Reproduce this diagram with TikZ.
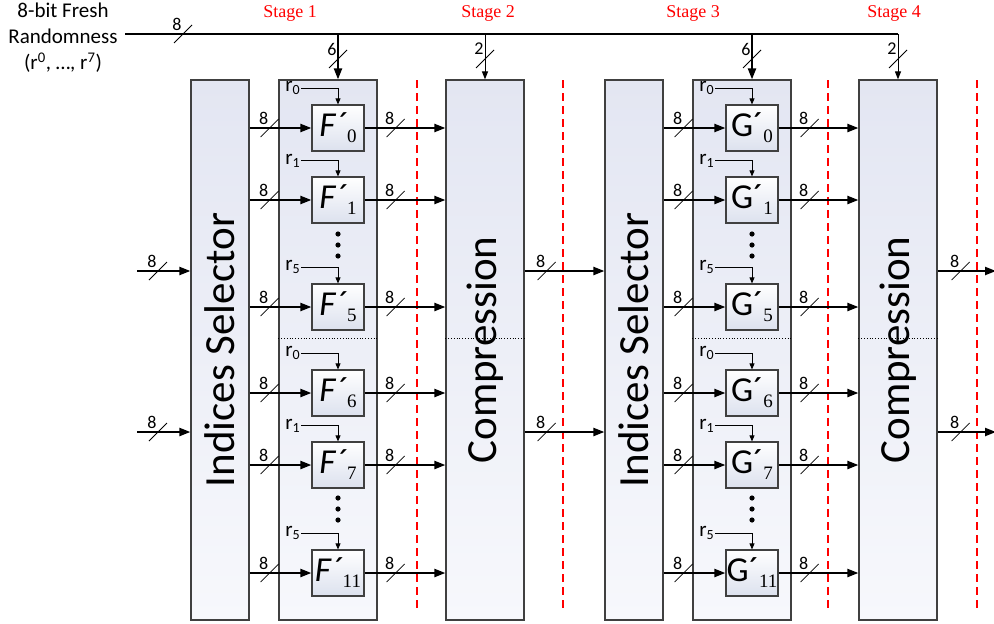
\documentclass[tikz,border=0pt]{standalone}
\usepackage{fontspec}
\setmainfont{Carlito}
\newfontfamily\stagefont{Liberation Serif}
\usetikzlibrary{positioning,calc,arrows.meta,decorations.markings}

\definecolor{blocktop}{HTML}{E3E6F2}
\definecolor{blockbot}{HTML}{F7F8FC}
\definecolor{boxbot}{HTML}{DCE1EE}
\definecolor{edge}{HTML}{404040}

\newcommand\unitsub[1]{\raisebox{-6pt}{\fontsize{19}{19}\stagefont\selectfont #1}}
\newcommand\rsub[1]{\raisebox{-3pt}{\fontsize{14}{14}\selectfont #1}}

\tikzset{
  block/.style={draw=edge, line width=1.2pt, top color=blocktop, bottom color=blockbot, inner sep=0pt, minimum height=540, font=\fontsize{43}{43}\selectfont},
  fbox/.style={draw=edge, line width=1.2pt, top color=white, bottom color=boxbot, minimum width=52, minimum height=46, inner sep=0pt, font=\fontsize{35}{35}\selectfont},
  rlbl/.style={inner sep=1pt, font=\fontsize{21}{21}\selectfont},
  rline/.style={line width=0.8pt, -{Triangle[length=6pt,width=5pt]}},
  busline/.style={line width=2.2pt, -{Triangle[length=11pt,width=8pt]}},
  thinbus/.style={line width=1pt, -{Triangle[length=8pt,width=6pt]}},
  buslbl/.style={inner sep=0pt, font=\fontsize{18}{18}\selectfont},
  bus/.style 2 args={postaction={decorate, decoration={markings, mark=at position #1 with {\pgftransformresetnontranslations \draw[-, line width=0.8pt] (-9,9) -- (9,-9); \node[buslbl] at (-6,-10) {#2};}}}},
  stageline/.style={red, line width=1.6pt, dash pattern=on 8pt off 5pt},
  stagelbl/.style={red, font=\stagefont\fontsize{18}{18}\selectfont},
  sepline/.style={line width=0.8pt, dotted},
}

\begin{document}
\begin{tikzpicture}[x=1pt, y=-1pt]
    \useasboundingbox (0,0) rectangle (994,624);

    % Blocks
    \node[block, minimum width=58] (sel1) at (220,350) {\rotatebox{90}{Indices Selector}};
    \node[block, minimum width=98] (fcol) at (328,350) {};
    \node[block, minimum width=78] (comp1) at (485,350) {\rotatebox{90}{Compression}};
    \node[block, minimum width=58] (sel2) at (634,350) {\rotatebox{90}{Indices Selector}};
    \node[block, minimum width=98] (gcol) at (742,350) {};
    \node[block, minimum width=78] (comp2) at (898,350) {\rotatebox{90}{Compression}};

    % Dotted split
    \coordinate (sep) at (0,338);
    \foreach \b in {fcol,comp1,gcol,comp2}
        \draw[sepline] (\b.west |- sep) -- (\b.east |- sep);

    % Stage borders
    \foreach \x in {417,563,828,977}
        \draw[stageline] (\x,80) -- (\x,610);
    \node[stagelbl] (stage1) at (290,13) {Stage 1};
    \node[stagelbl] (stage2) at (488,13) {Stage 2};
    \node[stagelbl] (stage3) at (693,13) {Stage 3};
    \node[stagelbl] (stage4) at (894,13) {Stage 4};

    % F' and G' units
    \foreach \n/\y/\r in {0/128/0, 1/200/1, 5/307/5, 6/393/0, 7/465/1, 11/573/5} {
        \node[fbox] (f\n) at (338,\y) {\textit{F´}\unitsub{\n}};
        \node[rlbl, anchor=east] (rf\n) at ($(f\n.north)+(-37,-16)$) {r\rsub{\r}};
        \draw[rline] (rf\n.east) -| (f\n.north);
        \draw[busline, bus={20pt}{8}] (sel1.east |- f\n.west) -- (f\n.west);
        \draw[busline, bus={31pt}{8}] (f\n.east) -- (comp1.west |- f\n.east);

        \node[fbox] (g\n) at (752,\y) {G´\unitsub{\n}};
        \node[rlbl, anchor=east] (rg\n) at ($(g\n.north)+(-37,-16)$) {r\rsub{\r}};
        \draw[rline] (rg\n.east) -| (g\n.north);
        \draw[busline, bus={20pt}{8}] (sel2.east |- g\n.west) -- (g\n.west);
        \draw[busline, bus={31pt}{8}] (g\n.east) -- (comp2.west |- g\n.east);
    }
    \foreach \x in {338,752}
        \foreach \y in {234,245,256,498,509,520}
            \fill (\x,\y) circle (2.6);

    % Fresh randomness
    \node[align=center, font=\fontsize{21}{26}\selectfont] (fresh) at (63,38) {8-bit Fresh\\Randomness\\(r\textsuperscript{0}, …, r\textsuperscript{7})};
    \coordinate (rb) at (125,34);
    \draw[line width=2.2pt, bus={58pt}{8}] (rb) -- (rb -| comp2.north);
    \draw[busline, bus={25pt}{6}] (rb -| f0) -- (fcol.north -| f0);
    \draw[thinbus, bus={25pt}{2}] (rb -| comp1.north) -- (comp1.north);
    \draw[busline, bus={25pt}{6}] (rb -| g0) -- (gcol.north -| g0);
    \draw[thinbus, bus={25pt}{2}] (rb -| comp2.north) -- (comp2.north);

    % Inputs and outputs
    \coordinate (in1) at (137,271);
    \coordinate (in2) at (137,432);
    \coordinate (out1) at (996,271);
    \coordinate (out2) at (996,432);
    \foreach \i in {1,2} {
        \draw[busline, bus={21pt}{8}] (in\i) -- (in\i -| sel1.west);
        \draw[busline, bus={22pt}{8}] (in\i -| comp1.east) -- (in\i -| sel2.west);
        \draw[busline, bus={23pt}{8}] (in\i -| comp2.east) -- (out\i);
    }
\end{tikzpicture}
\end{document}
